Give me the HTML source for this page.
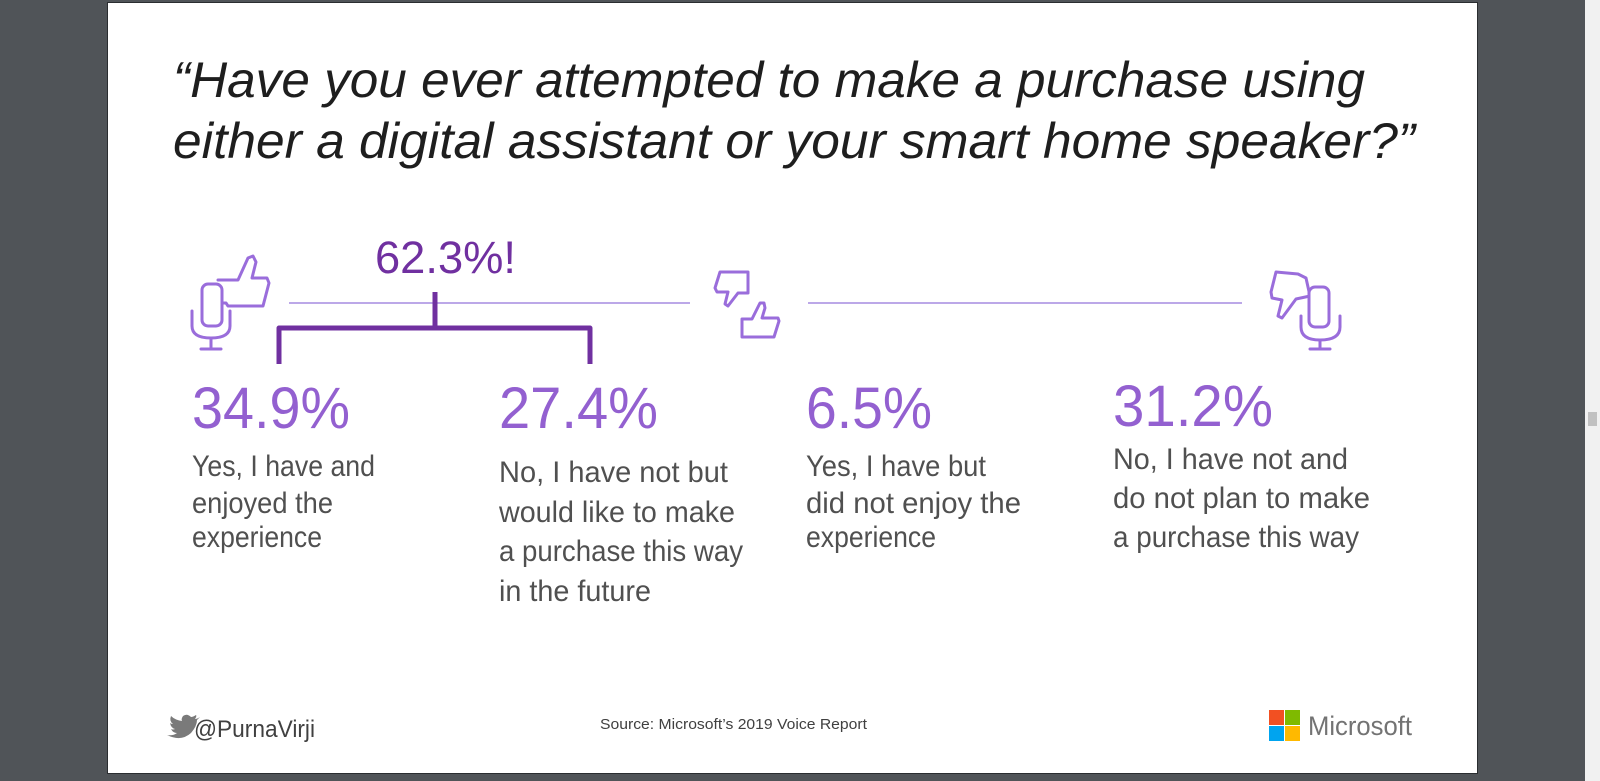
<!DOCTYPE html>
<html><head><meta charset="utf-8"><style>
html,body{margin:0;padding:0;background:#505458;width:1600px;height:781px;overflow:hidden}
svg{display:block}
</style></head><body>
<svg width="1600" height="781" viewBox="0 0 1600 781" xmlns="http://www.w3.org/2000/svg">
<rect x="0" y="0" width="1600" height="781" fill="#505458"/>
<rect x="1585" y="0" width="15" height="781" fill="#f1f1f1"/>
<rect x="1588" y="412" width="9" height="14" fill="#c1c1c1"/>
<rect x="107" y="2" width="1371" height="772" fill="#2a2d30"/>
<rect x="108" y="3" width="1369" height="770" fill="#ffffff"/>

<g font-family="Liberation Sans, sans-serif" font-style="italic" fill="#1e1e1e" font-size="50">
<text x="173" y="97" textLength="1192" lengthAdjust="spacingAndGlyphs">“Have you ever attempted to make a purchase using</text>
<text x="173" y="158" textLength="1242" lengthAdjust="spacingAndGlyphs">either a digital assistant or your smart home speaker?”</text>
</g>

<text x="375" y="273" font-family="Liberation Sans, sans-serif" font-size="45" fill="#7030a0" textLength="141" lengthAdjust="spacingAndGlyphs">62.3%!</text>

<g stroke="#a58be0" stroke-width="1.5">
<line x1="289" y1="303" x2="690" y2="303"/>
<line x1="808" y1="303" x2="1242" y2="303"/>
</g>
<g stroke="#7030a0" stroke-width="5" fill="none" stroke-linejoin="round">
<line x1="435" y1="292" x2="435" y2="328"/>
<polyline points="279,364 279,328 590,328 590,364"/>
</g>

<g stroke="#9a6ddb" stroke-width="3" fill="none" stroke-linejoin="round" stroke-linecap="round">
<path d="M218 280 L238 280 L248 258 L253 256 L256 262 L252 278 L267 278 L269 283 L263 306 L228 306 L226 303 L218 303"/>
<rect x="202" y="284" width="20" height="42" rx="6" fill="#fff"/>
<path d="M192 311 L192 326 Q192 338 211 338 Q230 338 230 326 L230 311"/>
<line x1="211" y1="338" x2="211" y2="348"/>
<line x1="201" y1="349" x2="221" y2="349"/>
<path d="M720 272 L748 272 L748 293 L738 293 L728 306 L725 304 L728 292 L717 292 L715 288 Z"/>
<path d="M742 319 L752 319 L760 303 L764 303 L765 308 L762 318 L778 318 L779 321 L774 337 L742 337 Z"/>
<path d="M1276 272 L1298 274 L1306 278 L1310 296 L1296 299 L1282 318 L1278 316 L1282 300 L1272 298 L1271 292 Z"/>
<rect x="1309" y="287" width="20" height="40" rx="6" fill="#fff"/>
<path d="M1301 316 L1301 327 Q1301 340 1320 340 Q1340 340 1340 327 L1340 316"/>
<line x1="1320" y1="340" x2="1320" y2="348"/>
<line x1="1310" y1="349" x2="1330" y2="349"/>
</g>

<g font-family="Liberation Sans, sans-serif" font-size="58" fill="#9360d0">
<text x="192" y="428" textLength="158" lengthAdjust="spacingAndGlyphs">34.9%</text>
<text x="499" y="428" textLength="159" lengthAdjust="spacingAndGlyphs">27.4%</text>
<text x="806" y="428" textLength="126" lengthAdjust="spacingAndGlyphs">6.5%</text>
<text x="1113" y="426" textLength="160" lengthAdjust="spacingAndGlyphs">31.2%</text>
</g>

<g font-family="Liberation Sans, sans-serif" font-size="30" fill="#505050">
<text x="192" y="476" textLength="183" lengthAdjust="spacingAndGlyphs">Yes, I have and</text>
<text x="192" y="513" textLength="141" lengthAdjust="spacingAndGlyphs">enjoyed the</text>
<text x="192" y="547" textLength="130" lengthAdjust="spacingAndGlyphs">experience</text>

<text x="499" y="482" textLength="229" lengthAdjust="spacingAndGlyphs">No, I have not but</text>
<text x="499" y="522" textLength="236" lengthAdjust="spacingAndGlyphs">would like to make</text>
<text x="499" y="561" textLength="244" lengthAdjust="spacingAndGlyphs">a purchase this way</text>
<text x="499" y="601" textLength="152" lengthAdjust="spacingAndGlyphs">in the future</text>

<text x="806" y="476" textLength="180" lengthAdjust="spacingAndGlyphs">Yes, I have but</text>
<text x="806" y="513" textLength="215" lengthAdjust="spacingAndGlyphs">did not enjoy the</text>
<text x="806" y="547" textLength="130" lengthAdjust="spacingAndGlyphs">experience</text>

<text x="1113" y="469" textLength="235" lengthAdjust="spacingAndGlyphs">No, I have not and</text>
<text x="1113" y="508" textLength="257" lengthAdjust="spacingAndGlyphs">do not plan to make</text>
<text x="1113" y="547" textLength="246" lengthAdjust="spacingAndGlyphs">a purchase this way</text>
</g>

<path d="M191 717 Q188 719 186 719 Q188 716 187 715 Q184 717 182 717 Q178 713 174 716 Q172 719 173 721 Q166 720 162 716 Q160 721 164 724 Q162 724 161 723 Q162 728 166 729 Q164 730 162 729 Q164 733 168 733 Q164 736 158 735 Q172 742 182 733 Q188 726 188 720 Z" fill="#7a7a7a" transform="translate(9,0)"/>
<text x="194" y="737" font-family="Liberation Sans, sans-serif" font-size="24" fill="#404040" textLength="121" lengthAdjust="spacingAndGlyphs">@PurnaVirji</text>
<text x="600" y="729" font-family="Liberation Sans, sans-serif" font-size="15" fill="#404040" textLength="267" lengthAdjust="spacingAndGlyphs">Source: Microsoft’s 2019 Voice Report</text>

<rect x="1269" y="710" width="15" height="15" fill="#f25022"/>
<rect x="1285" y="710" width="15" height="15" fill="#7fba00"/>
<rect x="1269" y="726" width="15" height="15" fill="#00a4ef"/>
<rect x="1285" y="726" width="15" height="15" fill="#ffb900"/>
<text x="1308" y="735" font-family="Liberation Sans, sans-serif" font-size="27" fill="#737373" textLength="104" lengthAdjust="spacingAndGlyphs">Microsoft</text>
</svg>
</body></html>
